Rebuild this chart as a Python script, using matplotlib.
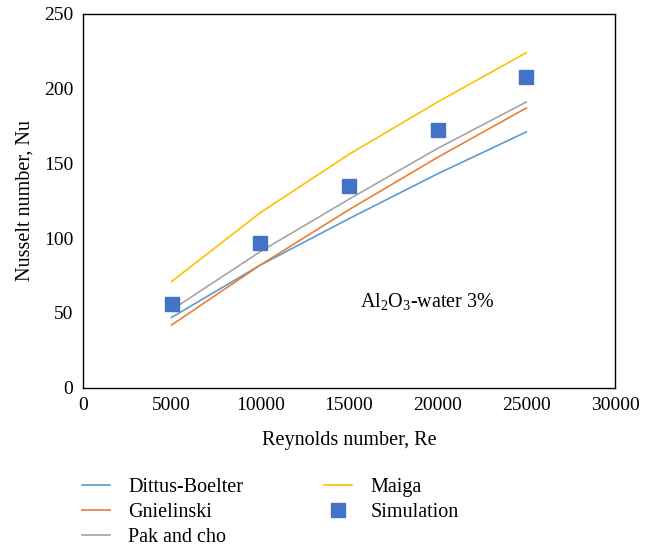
import matplotlib
matplotlib.use("Agg")
import matplotlib.pyplot as plt

plt.rcParams['font.family'] = ['Liberation Serif', 'DejaVu Serif']
plt.rcParams['mathtext.fontset'] = 'custom'
plt.rcParams['mathtext.rm'] = 'Liberation Serif'

# valores
re = [5000, 10000, 15000, 20000, 25000]
dittus = [47, 82, 113, 143, 171]
gnielinski = [42, 82, 119, 154, 187]
pak_cho = [52, 91, 126, 160, 191]
maiga = [71, 117, 156, 191, 224]
simulation = [56, 97, 135, 172, 208]

fig = plt.figure(figsize=(6.48, 5.5), dpi=100)
ax = fig.add_axes([0.128, 0.295, 0.821, 0.680])

ax.plot(re, dittus, color='#5B9BD5', lw=1.2, label='Dittus-Boelter')
ax.plot(re, gnielinski, color='#ED7D31', lw=1.2, label='Gnielinski')
ax.plot(re, pak_cho, color='#A5A5A5', lw=1.2, label='Pak and cho')
ax.plot(re, maiga, color='#FFC000', lw=1.2, label='Maiga')
ax.plot(re, simulation, 's', color='#4472C4', ms=10, ls='none', label='Simulation')

ax.set_xlim(0, 30000)
ax.set_ylim(0, 250)
ax.set_xticks(range(0, 30001, 5000))
ax.set_yticks(range(0, 251, 50))
ax.tick_params(length=0, labelsize=14, pad=7)
for s in ax.spines.values():
    s.set_color('black')
    s.set_linewidth(1.0)

ax.set_xlabel('Reynolds number, Re', fontsize=14.5, labelpad=12)
ax.set_ylabel('Nusselt number, Nu', fontsize=14.5, labelpad=6.5)

ax.text(19400, 57, r'Al$_2$O$_3$-water 3%', fontsize=14.5, ha='center', va='center')

fig.legend(loc='upper left', bbox_to_anchor=(0.1265, 0.131), ncol=2, frameon=False,
           fontsize=14.5, borderpad=0, borderaxespad=0, handlelength=1.4,
           handletextpad=0.9, columnspacing=4.0, labelspacing=0.3)

fig.savefig('out.png', dpi=100)
